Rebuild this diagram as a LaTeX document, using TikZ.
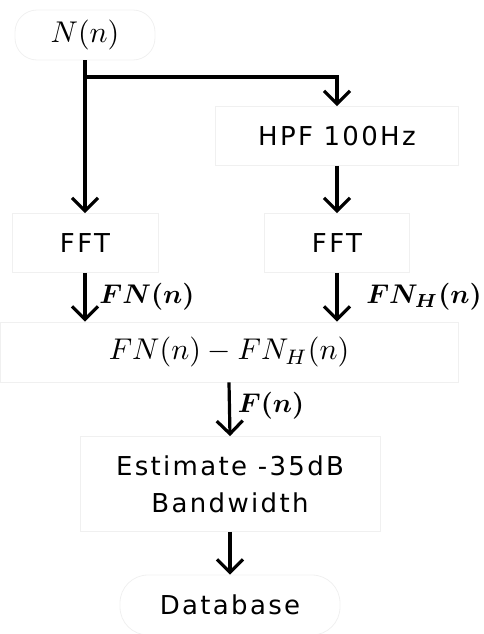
\documentclass[tikz,border=0pt]{standalone}
\usepackage{amsmath,bm,graphicx}
\usepackage{fontspec}
\setsansfont{DejaVu Sans}[LetterSpace=9]
\usetikzlibrary{arrows.meta}
\newcommand{\mathbig}[1]{{\normalsize\scalebox{3.0}{$#1$}}}
\newcommand{\mathlab}[1]{{\normalsize\scalebox{2.7}{$\bm{#1}$}}}
\begin{document}
\begin{tikzpicture}[x=1pt,y=-1pt,
  box/.style={draw=black!6, line width=0.8pt, inner sep=0pt,
    font=\sffamily\fontsize{26}{37}\selectfont},
  rbox/.style={box, rounded corners=22pt},
  mathlbl/.style={inner sep=0pt},
  arr/.style={line width=3.2pt, -{Straight Barb[length=13pt,width=26pt]}}]
\useasboundingbox (0,0) rectangle (484,634);
\node[rbox, minimum width=140pt, minimum height=50pt] (Nn) at (85,35) {\mathbig{N(n)}};
\node[box, minimum width=243pt, minimum height=59pt] (hpf) at (337,136) {HPF 100Hz};
\node[box, minimum width=146pt, minimum height=59pt] (fftL) at (85,243) {FFT};
\node[box, minimum width=145pt, minimum height=59pt] (fftR) at (337,243) {FFT};
\node[box, minimum width=458pt, minimum height=60pt] (sub) at (229,352) {\mathbig{FN(n)-FN_H(n)}};
\node[box, align=center, minimum width=300pt, minimum height=95pt] (est) at (230,484) {Estimate -35dB\\Bandwidth};
\node[rbox, minimum width=220pt, minimum height=60pt, rounded corners=28pt] (db) at (230,605) {Database};
\coordinate (br) at (85,77);
\draw[arr] (Nn.south) -- (fftL.north);
\draw[arr] (br) -| (hpf.north);
\draw[arr] (hpf.south) -- (fftR.north);
\draw[arr] (fftL.south) -- (fftL.south |- sub.north);
\draw[arr] (fftR.south) -- (fftR.south |- sub.north);
\draw[arr] (sub.south) -- (est.north);
\draw[arr] (est.south) -- (db.north);
\node[mathlbl] (l1) at (147,297) {\mathlab{FN(n)}};
\node[mathlbl] (l2) at (424,297) {\mathlab{FN_H(n)}};
\node[mathlbl] (l3) at (271,406) {\mathlab{F(n)}};
\end{tikzpicture}
\end{document}
